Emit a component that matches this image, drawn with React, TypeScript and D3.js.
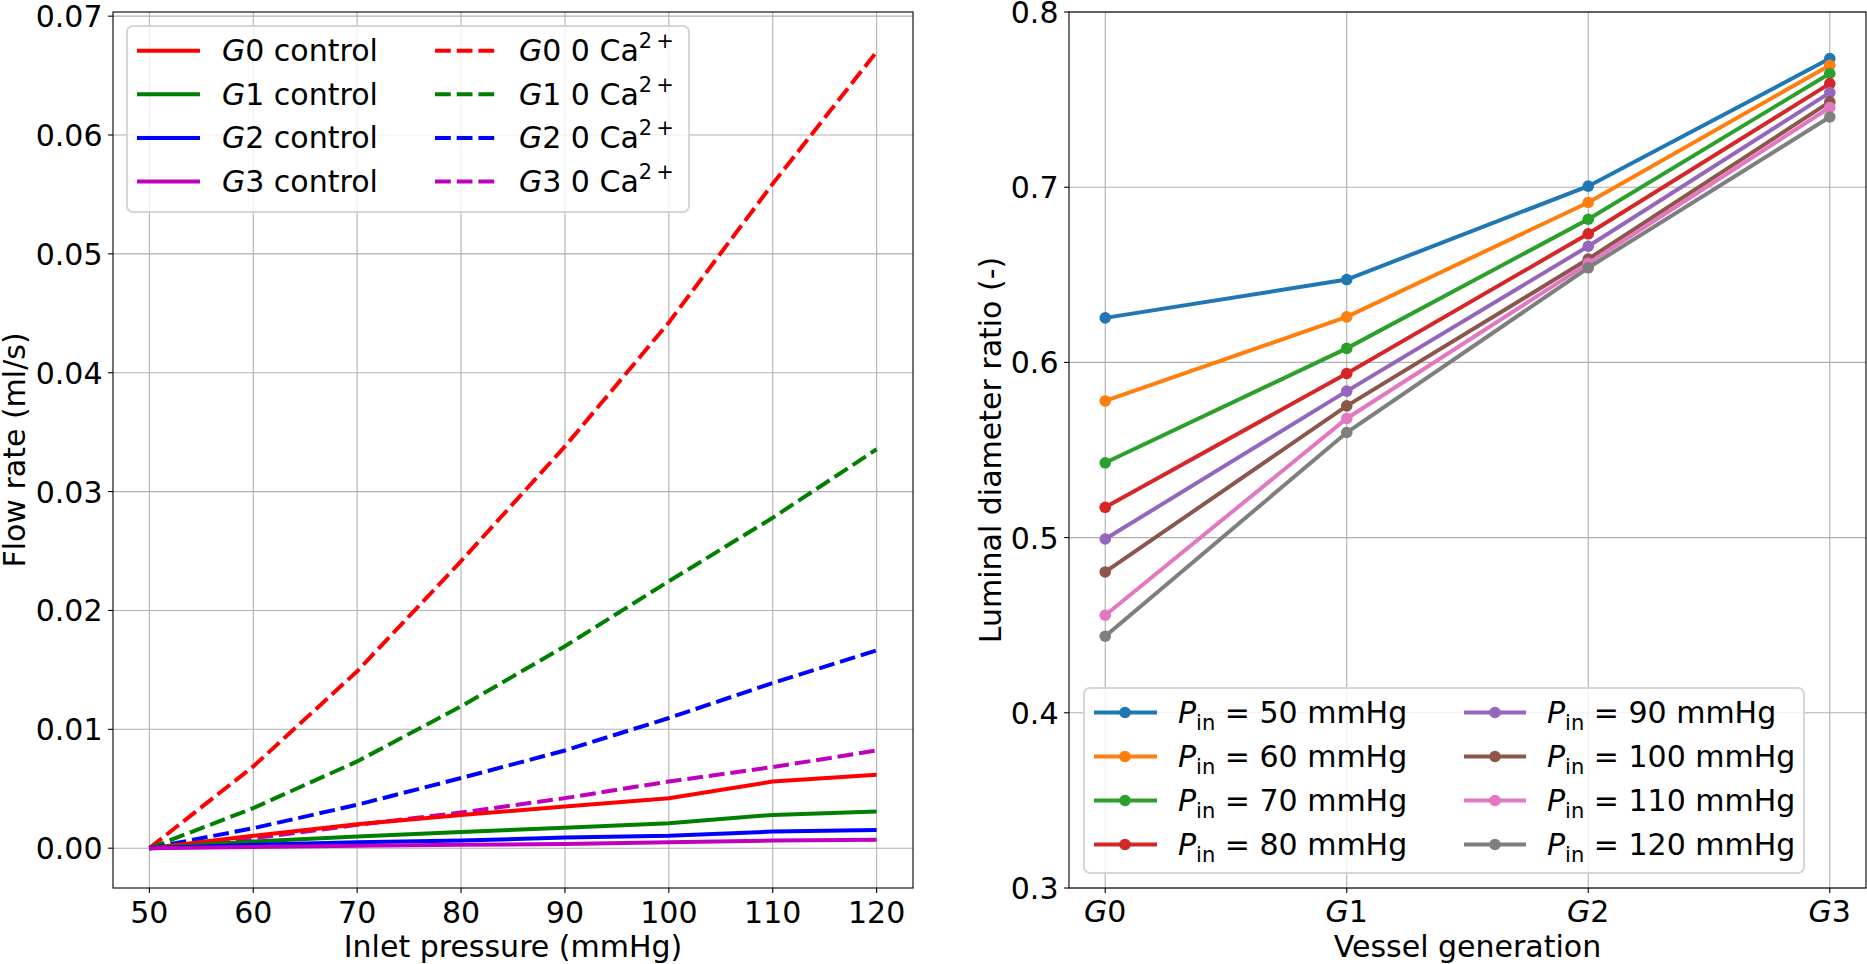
import * as d3 from 'd3';

// ---- left panel data: flow rate (ml/s) vs inlet pressure (mmHg)
const pressures = [50, 60, 70, 80, 90, 100, 110, 120];
const g0Control = [0, 0.00104, 0.00202, 0.0028, 0.0035, 0.00421, 0.00561, 0.00617];
const g1Control = [0, 0.00056, 0.00098, 0.00137, 0.00171, 0.0021, 0.0028, 0.00308];
const g2Control = [0, 0.00028, 0.0005, 0.00064, 0.00089, 0.00104, 0.0014, 0.00154];
const g3Control = [0, 0.0001, 0.0002, 0.00028, 0.00036, 0.0005, 0.00064, 0.0007];
const g0NoCa = [0, 0.00688, 0.01488, 0.02415, 0.0338, 0.04423, 0.0559, 0.067];
const g1NoCa = [0, 0.00337, 0.0073, 0.01193, 0.01699, 0.02246, 0.0278, 0.03356];
const g2NoCa = [0, 0.00168, 0.00365, 0.0059, 0.00822, 0.01095, 0.0139, 0.01665];
const g3NoCa = [0, 0.00084, 0.00196, 0.003, 0.00421, 0.00561, 0.00682, 0.00822];
const flowTicksX = [50, 60, 70, 80, 90, 100, 110, 120];
const flowTicksY = [0, 0.01, 0.02, 0.03, 0.04, 0.05, 0.06, 0.07];

// ---- right panel data: luminal diameter ratio per vessel generation
const generations = ['0', '1', '2', '3'];
const inletLevels = [50, 60, 70, 80, 90, 100, 110, 120];
const ratio50 = [0.6254, 0.6473, 0.7006, 0.7734];
const ratio60 = [0.578, 0.626, 0.6913, 0.7696];
const ratio70 = [0.5427, 0.608, 0.6817, 0.7649];
const ratio80 = [0.5173, 0.5937, 0.6734, 0.7591];
const ratio90 = [0.4992, 0.5836, 0.6663, 0.754];
const ratio100 = [0.4804, 0.5752, 0.659, 0.7487];
const ratio110 = [0.4557, 0.568, 0.6565, 0.7455];
const ratio120 = [0.4437, 0.56, 0.654, 0.7401];
const ratioTicksY = [0.3, 0.4, 0.5, 0.6, 0.7, 0.8];

const FONT = 'DejaVu Sans';
const FS = 30;
const GRID = '#b0b0b0';
const LW = 4;
const DASH = '15.8 5.9';
const TICK = 4.9;

const flowSeries = [
    { gen: '0', ca: false, color: '#ff0000', values: g0Control },
    { gen: '1', ca: false, color: '#008000', values: g1Control },
    { gen: '2', ca: false, color: '#0000ff', values: g2Control },
    { gen: '3', ca: false, color: '#bf00bf', values: g3Control },
    { gen: '0', ca: true, color: '#ff0000', values: g0NoCa },
    { gen: '1', ca: true, color: '#008000', values: g1NoCa },
    { gen: '2', ca: true, color: '#0000ff', values: g2NoCa },
    { gen: '3', ca: true, color: '#bf00bf', values: g3NoCa },
];

const ratioSeries = [ratio50, ratio60, ratio70, ratio80, ratio90, ratio100, ratio110, ratio120]
    .map((values, i) => ({ level: inletLevels[i], values, color: d3.schemeCategory10[i] }));

const W = 1867;
const H = 964;

// left axes box
const L = { left: 113, right: 913, top: 12, bottom: 888 };
// right axes box
const R = { left: 1069, right: 1866, top: 12, bottom: 888 };

function LeftPanel() {
    const x = d3.scaleLinear().domain([46.5, 123.5]).range([L.left, L.right]);
    const allFlow = flowSeries.flatMap(s => s.values);
    const yMax = d3.max(allFlow) || 0;
    const pad = yMax * 0.05;
    const y = d3.scaleLinear().domain([-pad, yMax + pad]).range([L.bottom, L.top]);
    const line = d3.line<number>().x((_, i) => x(pressures[i])).y(d => y(d));
    const fmt = d3.format('.2f');

    const drawOrder = [...flowSeries.filter(s => s.ca), ...flowSeries.filter(s => !s.ca)];

    // legend layout
    const lg = { x: 127, y: 26, w: 562, h: 186 };
    const rowY = (i: number) => lg.y + 24.7 + i * 43.6;
    const cols = [{ h0: 10, h1: 73, tx: 95 }, { h0: 308, h1: 368, tx: 392 }];

    return (
        <g>
            {flowTicksX.map(t => (
                <line key={'gx' + t} x1={x(t)} x2={x(t)} y1={L.top} y2={L.bottom} stroke={GRID} strokeWidth={1.1} />
            ))}
            {flowTicksY.map(t => (
                <line key={'gy' + t} x1={L.left} x2={L.right} y1={y(t)} y2={y(t)} stroke={GRID} strokeWidth={1.1} />
            ))}
            {drawOrder.map((s, i) => (
                <path key={i} d={line(s.values) || ''} fill="none" stroke={s.color} strokeWidth={LW}
                    strokeDasharray={s.ca ? DASH : undefined} />
            ))}
            <rect x={L.left} y={L.top} width={L.right - L.left} height={L.bottom - L.top} fill="none" stroke="black" strokeWidth={1.1} />
            {flowTicksX.map(t => (
                <g key={'tx' + t}>
                    <line x1={x(t)} x2={x(t)} y1={L.bottom} y2={L.bottom + TICK} stroke="black" strokeWidth={1.1} />
                    <text x={x(t)} y={L.bottom + 35} textAnchor="middle" fontSize={FS}>{t}</text>
                </g>
            ))}
            {flowTicksY.map(t => (
                <g key={'ty' + t}>
                    <line x1={L.left - TICK} x2={L.left} y1={y(t)} y2={y(t)} stroke="black" strokeWidth={1.1} />
                    <text x={L.left - 10.5} y={y(t) + 11} textAnchor="end" fontSize={FS}>{fmt(t)}</text>
                </g>
            ))}
            <text x={(L.left + L.right) / 2} y={957} textAnchor="middle" fontSize={FS}>Inlet pressure (mmHg)</text>
            <text transform={`translate(25, ${(L.top + L.bottom) / 2}) rotate(-90)`} textAnchor="middle" fontSize={FS}>Flow rate (ml/s)</text>

            <rect x={lg.x} y={lg.y} width={lg.w} height={lg.h} rx={6} fill="white" fillOpacity={0.8} stroke="#d6d6d6" strokeWidth={2} />
            {flowSeries.map((s, i) => {
                const c = cols[s.ca ? 1 : 0];
                const ry = rowY(i % 4);
                return (
                    <g key={'lg' + i}>
                        <line x1={lg.x + c.h0} x2={lg.x + c.h1} y1={ry} y2={ry} stroke={s.color} strokeWidth={LW}
                            strokeDasharray={s.ca ? DASH : undefined} />
                        <text x={lg.x + c.tx} y={ry + 10.5} fontSize={FS}>
                            <tspan fontStyle="italic">G</tspan>
                            {s.ca ? (
                                <>
                                    <tspan>{s.gen + ' 0 Ca'}</tspan>
                                    <tspan fontSize={21} dy={-13}>2</tspan>
                                    <tspan fontSize={21} dx={4}>+</tspan>
                                </>
                            ) : (
                                <tspan>{s.gen + ' control'}</tspan>
                            )}
                        </text>
                    </g>
                );
            })}
        </g>
    );
}

function RightPanel() {
    const x = d3.scaleLinear().domain([-0.15, generations.length - 1 + 0.15]).range([R.left, R.right]);
    const y = d3.scaleLinear().domain([0.3, 0.8]).range([R.bottom, R.top]);
    const line = d3.line<number>().x((_, i) => x(i)).y(d => y(d));
    const fmt = d3.format('.1f');

    const lg = { x: 1084, y: 688, w: 720, h: 185 };
    const rowY = (i: number) => lg.y + 24.5 + i * 44;
    const cols = [{ h0: 10, h1: 73, m: 41, tx: 94 }, { h0: 380, h1: 442, m: 411, tx: 463 }];

    return (
        <g>
            {generations.map((g, i) => (
                <line key={'gx' + g} x1={x(i)} x2={x(i)} y1={R.top} y2={R.bottom} stroke={GRID} strokeWidth={1.1} />
            ))}
            {ratioTicksY.map(t => (
                <line key={'gy' + t} x1={R.left} x2={R.right} y1={y(t)} y2={y(t)} stroke={GRID} strokeWidth={1.1} />
            ))}
            {ratioSeries.map(s => (
                <g key={s.level}>
                    <path d={line(s.values) || ''} fill="none" stroke={s.color} strokeWidth={LW} />
                    {s.values.map((v, i) => (
                        <circle key={i} cx={x(i)} cy={y(v)} r={5.8} fill={s.color} />
                    ))}
                </g>
            ))}
            <rect x={R.left} y={R.top} width={R.right - R.left} height={R.bottom - R.top} fill="none" stroke="black" strokeWidth={1.1} />
            {generations.map((g, i) => (
                <g key={'tx' + g}>
                    <line x1={x(i)} x2={x(i)} y1={R.bottom} y2={R.bottom + TICK} stroke="black" strokeWidth={1.1} />
                    <text x={x(i)} y={R.bottom + 34} textAnchor="middle" fontSize={FS}>
                        <tspan fontStyle="italic">G</tspan><tspan>{g}</tspan>
                    </text>
                </g>
            ))}
            {ratioTicksY.map(t => (
                <g key={'ty' + t}>
                    <line x1={R.left - TICK} x2={R.left} y1={y(t)} y2={y(t)} stroke="black" strokeWidth={1.1} />
                    <text x={R.left - 10.5} y={y(t) + 11} textAnchor="end" fontSize={FS}>{fmt(t)}</text>
                </g>
            ))}
            <text x={(R.left + R.right) / 2} y={957} textAnchor="middle" fontSize={FS}>Vessel generation</text>
            <text transform={`translate(1001, ${(R.top + R.bottom) / 2}) rotate(-90)`} textAnchor="middle" fontSize={FS}>Luminal diameter ratio (-)</text>

            <rect x={lg.x} y={lg.y} width={lg.w} height={lg.h} rx={6} fill="white" fillOpacity={0.8} stroke="#d6d6d6" strokeWidth={2} />
            {ratioSeries.map((s, i) => {
                const c = cols[i < 4 ? 0 : 1];
                const ry = rowY(i % 4);
                return (
                    <g key={'lg' + s.level}>
                        <line x1={lg.x + c.h0} x2={lg.x + c.h1} y1={ry} y2={ry} stroke={s.color} strokeWidth={LW} />
                        <circle cx={lg.x + c.m} cy={ry} r={5.8} fill={s.color} />
                        <text x={lg.x + c.tx} y={ry + 10.5} fontSize={FS}>
                            <tspan fontStyle="italic">P</tspan>
                            <tspan fontSize={21} dy={6.5}>in</tspan>
                            <tspan dy={-6.5}>{` = ${s.level} mmHg`}</tspan>
                        </text>
                    </g>
                );
            })}
        </g>
    );
}

export default function App() {
    return (
        <svg width={W} height={H} style={{ position: 'absolute', left: 0, top: 0, display: 'block', background: 'white' }}
            fontFamily={FONT}>
            <LeftPanel />
            <RightPanel />
        </svg>
    );
}
